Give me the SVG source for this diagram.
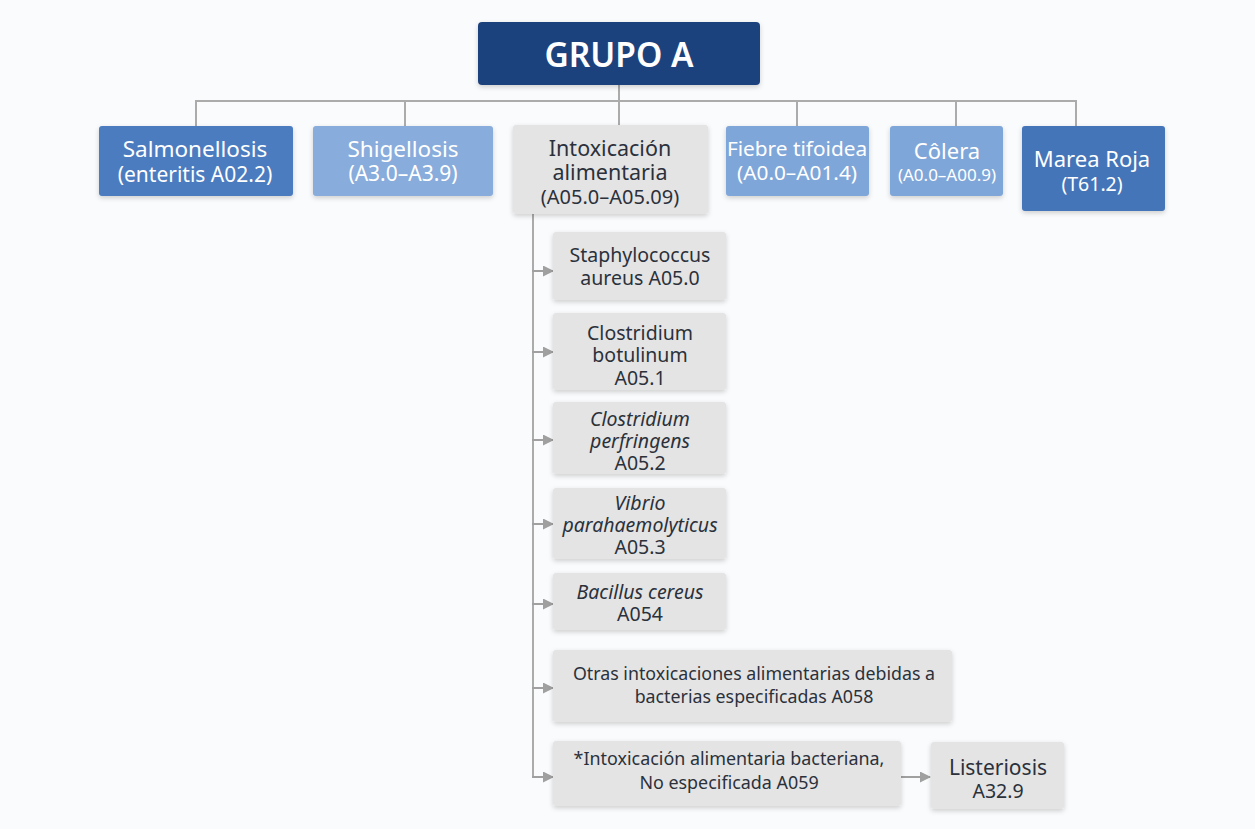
<svg xmlns="http://www.w3.org/2000/svg" width="1255" height="829" viewBox="0 0 1255 829">
<defs>
<filter id="sh" x="-10%" y="-10%" width="120%" height="135%">
<feDropShadow dx="0" dy="2" stdDeviation="2.5" flood-color="#000" flood-opacity="0.18"/>
</filter>
<marker id="ah" markerWidth="11" markerHeight="11" refX="10" refY="5.5" orient="auto" markerUnits="userSpaceOnUse">
<path d="M0,0 L11,5.5 L0,11 Z" fill="#a0a0a0"/>
</marker>
<style>
text{font-family:"Noto Sans","Open Sans","DejaVu Sans",sans-serif;text-anchor:middle;dominant-baseline:central}
.w{fill:#ffffff}
.d{fill:#2b313b}
.box{filter:url(#sh)}
.gray{fill:#e4e4e4}
.line{stroke:#ababab;stroke-width:2;fill:none}
.arr{stroke:#a0a0a0;stroke-width:2;fill:none;marker-end:url(#ah)}
.it{font-style:italic}
</style>
</defs>
<rect width="1255" height="829" fill="#fafbfc"/>
<g id="connectors">
<path class="line" d="M619,85 V101 M196,101 H1076 M196,100 V126 M405,100 V126 M619,100 V125 M797,100 V126 M956,100 V126 M1076,100 V126"/>
<path class="line" d="M533,214 V777"/>
<path class="arr" d="M532,271 H553"/>
<path class="arr" d="M532,352 H553"/>
<path class="arr" d="M532,440 H553"/>
<path class="arr" d="M532,524 H553"/>
<path class="arr" d="M532,604 H553"/>
<path class="arr" d="M532,688 H553"/>
<path class="arr" d="M532,777 H553"/>
<path class="arr" d="M901,777 H930"/>
</g>
<g id="grupo-a">
<rect class="box" x="478" y="22" width="282" height="63" rx="4" fill="#1f437e"/>
<text class="w" x="619" y="54" font-size="33.5" font-weight="600">GRUPO A</text>
</g>
<g id="salmonellosis">
<rect class="box" x="99" y="126" width="194" height="70" rx="3" fill="#4b7cc0"/>
<text class="w"><tspan x="195" y="148" font-size="22.5">Salmonellosis</tspan><tspan x="195" y="174" font-size="21">(enteritis A02.2)</tspan></text>
</g>
<g id="shigellosis">
<rect class="box" x="313" y="126" width="180" height="70" rx="3" fill="#88acdb"/>
<text class="w"><tspan x="403" y="148" font-size="22.5">Shigellosis</tspan><tspan x="403" y="173" font-size="21">(A3.0–A3.9)</tspan></text>
</g>
<g id="intoxicacion">
<rect class="box gray" x="513" y="125" width="195" height="89" rx="3"/>
<text class="d"><tspan x="610" y="147" font-size="21.5">Intoxicación</tspan><tspan x="610" y="171" font-size="21.5">alimentaria</tspan><tspan x="610" y="196" font-size="20">(A05.0–A05.09)</tspan></text>
</g>
<g id="fiebre">
<rect class="box" x="726" y="126" width="143" height="70" rx="3" fill="#7fa6d8"/>
<text class="w" font-size="20.8"><tspan x="797" y="148">Fiebre tifoidea</tspan><tspan x="797" y="172">(A0.0–A01.4)</tspan></text>
</g>
<g id="colera">
<rect class="box" x="890" y="126" width="113" height="70" rx="3" fill="#7fa6d8"/>
<text class="w"><tspan x="947" y="150" font-size="22">Côlera</tspan><tspan x="947" y="174" font-size="17">(A0.0–A00.9)</tspan></text>
</g>
<g id="marea-roja">
<rect class="box" x="1022" y="126" width="143" height="85" rx="3" fill="#4474b9"/>
<text class="w"><tspan x="1092" y="158" font-size="22">Marea Roja</tspan><tspan x="1092" y="183" font-size="19.5">(T61.2)</tspan></text>
</g>
<g id="staphylococcus">
<rect class="box gray" x="553" y="232" width="173" height="68" rx="3"/>
<text class="d" font-size="19.5"><tspan x="640" y="254">Staphylococcus</tspan><tspan x="640" y="277">aureus A05.0</tspan></text>
</g>
<g id="botulinum">
<rect class="box gray" x="553" y="313" width="173" height="77" rx="3"/>
<text class="d" font-size="19.5"><tspan x="640" y="332">Clostridium</tspan><tspan x="640" y="354">botulinum</tspan><tspan x="640" y="377">A05.1</tspan></text>
</g>
<g id="perfringens">
<rect class="box gray" x="553" y="402" width="173" height="72" rx="3"/>
<text class="d" font-size="19.5"><tspan class="it" x="640" y="418">Clostridium</tspan><tspan class="it" x="640" y="440">perfringens</tspan><tspan x="640" y="462">A05.2</tspan></text>
</g>
<g id="vibrio">
<rect class="box gray" x="553" y="488" width="173" height="71" rx="3"/>
<text class="d" font-size="19.5"><tspan class="it" x="640" y="502">Vibrio</tspan><tspan class="it" x="640" y="524">parahaemolyticus</tspan><tspan x="640" y="546">A05.3</tspan></text>
</g>
<g id="bacillus">
<rect class="box gray" x="553" y="573" width="173" height="57" rx="3"/>
<text class="d" font-size="19.5"><tspan class="it" x="640" y="591">Bacillus cereus</tspan><tspan x="640" y="613">A054</tspan></text>
</g>
<g id="otras">
<rect class="box gray" x="553" y="650" width="399" height="72" rx="3"/>
<text class="d" font-size="17.8"><tspan x="754" y="673">Otras intoxicaciones alimentarias debidas a</tspan><tspan x="754" y="696">bacterias especificadas A058</tspan></text>
</g>
<g id="no-especificada">
<rect class="box gray" x="553" y="741" width="348" height="65" rx="3"/>
<text class="d" font-size="17.9"><tspan x="729" y="758">*Intoxicación alimentaria bacteriana,</tspan><tspan x="729" y="782">No especificada A059</tspan></text>
</g>
<g id="listeriosis">
<rect class="box gray" x="931" y="742" width="133" height="67" rx="3"/>
<text class="d"><tspan x="998" y="767" font-size="21">Listeriosis</tspan><tspan x="998" y="790" font-size="19.5">A32.9</tspan></text>
</g>
</svg>
